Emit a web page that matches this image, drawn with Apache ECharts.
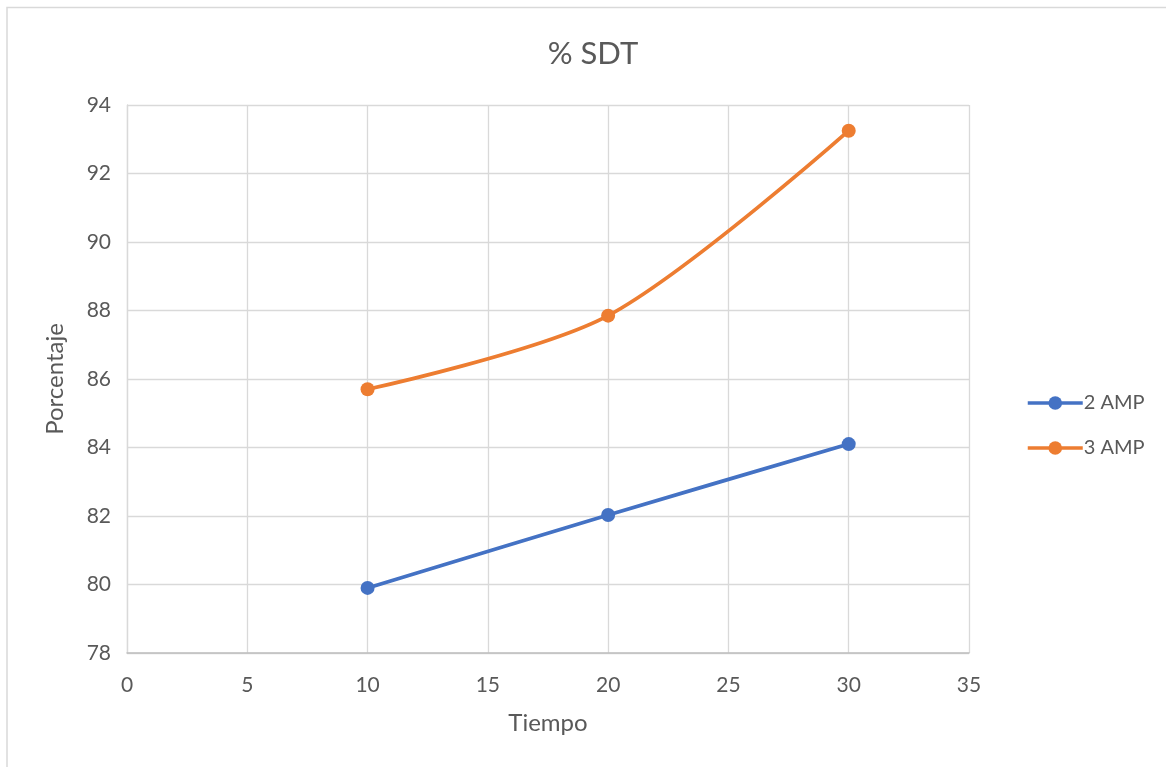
<!DOCTYPE html>
<html>
<head>
<meta charset="utf-8">
<script src="https://cdn.jsdelivr.net/npm/echarts@6/dist/echarts.min.js"></script>
<style>
  html, body { margin: 0; padding: 0; background: #ffffff; }
  #chart { width: 1166px; height: 767px; }
</style>
</head>
<body>
<div id="chart"></div>
<script>
// Time values (x) and percentage readings per current level
const tiempo = [10, 20, 30];
const amp2 = [79.9, 82.03, 84.1];
const amp3 = [85.7, 87.85, 93.25];
const seriesNames = ['2 AMP', '3 AMP'];
const colors = ['#4472C4', '#ED7D31'];

const textColor = '#595959';
const fontFamily = 'Lato, "Open Sans", sans-serif';

const chart = echarts.init(document.getElementById('chart'));

function pairs(xs, ys) {
  return xs.map((x, i) => [x, ys[i]]);
}

chart.setOption({
  animation: false,
  textStyle: { fontFamily: fontFamily },
  title: {
    text: '% SDT',
    left: 588,
    top: 33,
    textAlign: 'center',
    textStyle: { color: textColor, fontSize: 31, fontWeight: 'normal', fontFamily: fontFamily }
  },
  legend: {
    orient: 'vertical',
    left: 1021,
    top: 388,
    itemWidth: 55,
    itemHeight: 17,
    itemGap: 25,
    textStyle: { color: textColor, fontSize: 20, fontFamily: fontFamily, padding: [0, 0, 0, -4] },
    data: seriesNames.map((n, i) => ({
      name: n,
      itemStyle: { color: colors[i] },
      lineStyle: { color: colors[i], width: 3.5 }
    }))
  },
  grid: { left: 127, right: 197, top: 105, bottom: 114, containLabel: false },
  xAxis: {
    type: 'value',
    min: 0,
    max: 35,
    interval: 5,
    name: 'Tiempo',
    nameLocation: 'middle',
    nameGap: 58,
    nameTextStyle: { color: textColor, fontSize: 24, fontFamily: fontFamily },
    axisLine: { show: true, lineStyle: { color: '#bfbfbf', width: 1.5 } },
    axisTick: { show: false },
    axisLabel: { color: textColor, fontSize: 21, margin: 22, fontFamily: fontFamily },
    splitLine: { show: true, lineStyle: { color: '#d9d9d9', width: 1.3 } }
  },
  yAxis: {
    type: 'value',
    min: 78,
    max: 94,
    interval: 2,
    name: 'Porcentaje',
    nameLocation: 'middle',
    nameRotate: 90,
    nameGap: 60,
    nameTextStyle: { color: textColor, fontSize: 24, fontFamily: fontFamily },
    axisLine: { show: true, lineStyle: { color: '#d9d9d9', width: 1.3 } },
    axisTick: { show: false },
    axisLabel: { color: textColor, fontSize: 21, margin: 16, fontFamily: fontFamily },
    splitLine: { show: true, lineStyle: { color: '#d9d9d9', width: 1.3 } }
  },
  graphic: [
    {
      type: 'polyline',
      shape: { points: [[7, 767], [7, 7.5], [1166, 7.5]] },
      style: { stroke: '#d9d9d9', lineWidth: 1.5, fill: null },
      silent: true
    }
  ],
  series: [
    {
      name: seriesNames[0],
      type: 'line',
      data: pairs(tiempo, amp2),
      smooth: 0.3,
      symbol: 'circle',
      symbolSize: 14,
      lineStyle: { color: colors[0], width: 3.75 },
      itemStyle: { color: colors[0] }
    },
    {
      name: seriesNames[1],
      type: 'line',
      data: pairs(tiempo, amp3),
      smooth: 0.3,
      symbol: 'circle',
      symbolSize: 14,
      lineStyle: { color: colors[1], width: 3.75 },
      itemStyle: { color: colors[1] }
    }
  ]
});
</script>
</body>
</html>
